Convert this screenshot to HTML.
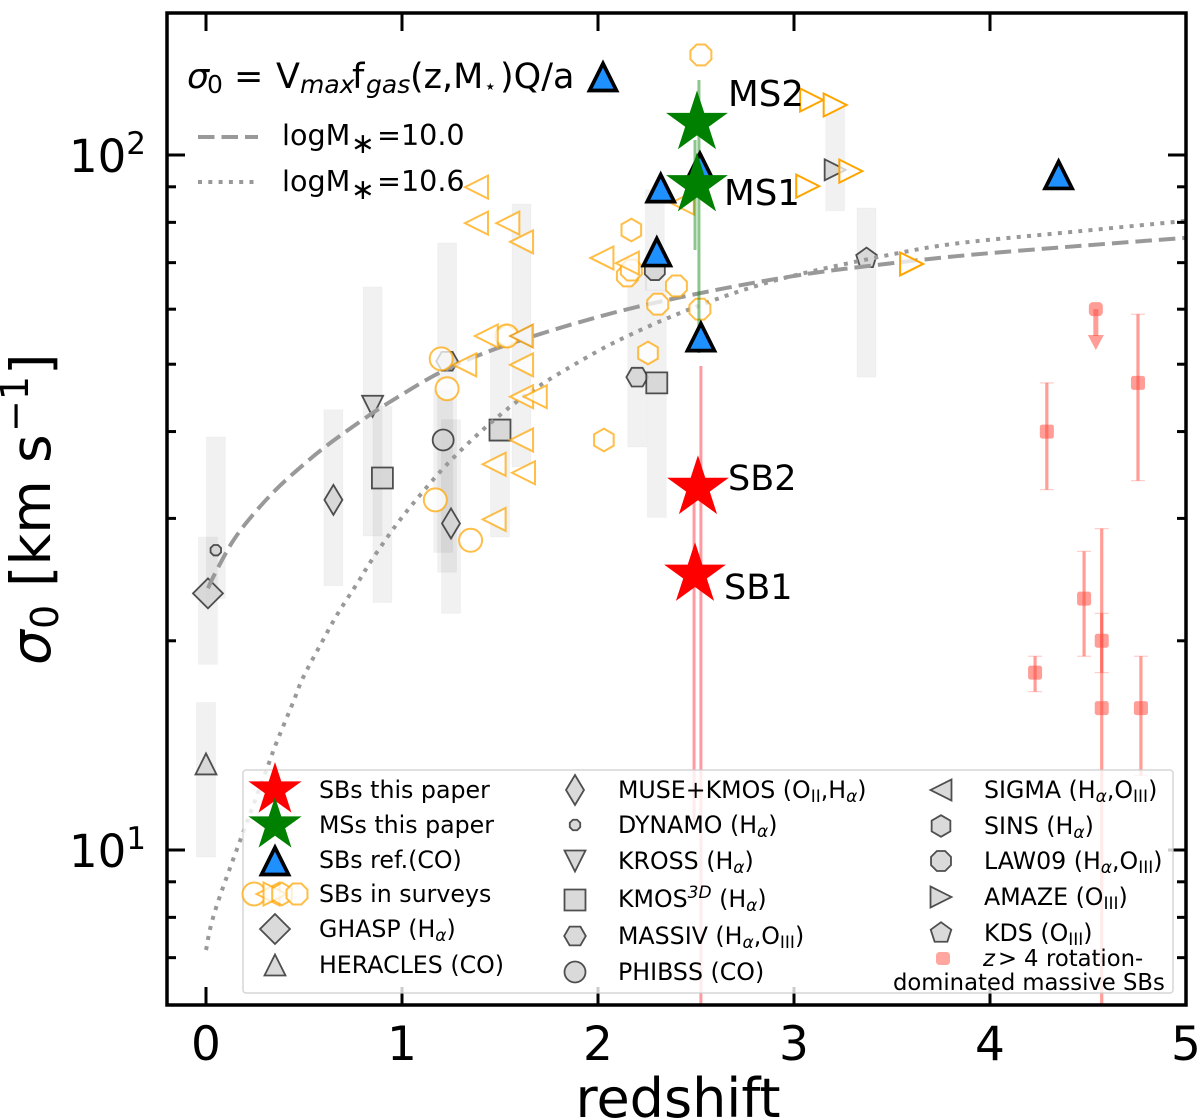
<!DOCTYPE html>
<html lang="en">
<head>
<meta charset="utf-8">
<title>Velocity dispersion versus redshift</title>
<style>
html,body{margin:0;padding:0;background:#fff;}
svg{display:block;}
text{font-family:"DejaVu Sans","Liberation Sans",sans-serif;fill:#000;white-space:pre;}
.it{font-style:italic;}
.lg{font-size:23.7px;}
</style>
</head>
<body>
<svg id="chart" xmlns="http://www.w3.org/2000/svg" width="1200" height="1118" viewBox="0 0 1200 1118">
  <defs><clipPath id="plot-clip"><rect x="167" y="13" width="1019" height="992"/></clipPath></defs>
  <g id="bands" clip-path="url(#plot-clip)"></g>
  <g id="surveys" clip-path="url(#plot-clip)"></g>
  <g id="curves" clip-path="url(#plot-clip)"></g>
  <g id="orange" clip-path="url(#plot-clip)"></g>
  <g id="surveys-top" clip-path="url(#plot-clip)"></g>
  <g id="orange-tri" clip-path="url(#plot-clip)"></g>
  <g id="pink" clip-path="url(#plot-clip)"></g>
  <g id="errs" clip-path="url(#plot-clip)"></g>
  <g id="blue" clip-path="url(#plot-clip)"></g>
  <g id="stars" clip-path="url(#plot-clip)"></g>

  <g>
    <text x="728" y="106" font-size="35.6">MS2</text>
    <text x="724" y="205" font-size="35.6">MS1</text>
    <text x="728" y="490" font-size="35">SB2</text>
    <text x="724" y="599" font-size="35">SB1</text>
  </g>

  <g>
    <text y="88" font-size="35"><tspan class="it" x="187">σ</tspan><tspan font-size="25" x="207" dy="5">0</tspan><tspan x="234" dy="-5">=</tspan><tspan x="276">V</tspan><tspan class="it" font-size="25" x="300" dy="5">max</tspan><tspan x="352" dy="-5">f</tspan><tspan class="it" font-size="25" x="366" dy="5">gas</tspan><tspan x="410" dy="-5">(z,M</tspan><tspan font-size="20" x="484" dy="5">⋆</tspan><tspan x="500" dy="-5">)Q/a</tspan></text>
    <line x1="198" x2="258" y1="137" y2="137" stroke="#999" stroke-width="4" stroke-dasharray="16.5 7"/>
    <line x1="198" x2="258" y1="182" y2="182" stroke="#999" stroke-width="4" stroke-dasharray="4 6.3"/>
    <text x="282" y="145" font-size="28.6">logM<tspan x="351" dy="8">∗</tspan><tspan x="377" dy="-8">=10.0</tspan></text>
    <text x="282" y="191" font-size="28.6">logM<tspan x="351" dy="8">∗</tspan><tspan x="377" dy="-8">=10.6</tspan></text>
  </g>

  <g id="axes"></g>

  <rect x="243" y="770" width="930" height="223" rx="3" fill="#fff" fill-opacity="0.8" stroke="#ccc" stroke-opacity="0.8" stroke-width="1.5"/>
  <g id="legend-icons"></g>
  <g class="lg">
    <text class="lg" x="319" y="798">SBs this paper</text>
    <text class="lg" x="319" y="833">MSs this paper</text>
    <text class="lg" x="319" y="868">SBs ref.(CO)</text>
    <text class="lg" x="319" y="902">SBs in surveys</text>
    <text class="lg" x="319" y="937">GHASP (H<tspan class="it" font-size="17" dy="4">α</tspan><tspan dy="-4">)</tspan></text>
    <text class="lg" x="319" y="973">HERACLES (CO)</text>

    <text class="lg" x="618" y="798">MUSE+KMOS (O<tspan font-size="17" dy="4">II</tspan><tspan dy="-4">,H</tspan><tspan class="it" font-size="17" dy="4">α</tspan><tspan dy="-4">)</tspan></text>
    <text class="lg" x="618" y="833">DYNAMO (H<tspan class="it" font-size="17" dy="4">α</tspan><tspan dy="-4">)</tspan></text>
    <text class="lg" x="618" y="869">KROSS (H<tspan class="it" font-size="17" dy="4">α</tspan><tspan dy="-4">)</tspan></text>
    <text class="lg" x="618" y="907">KMOS<tspan class="it" font-size="17" dy="-9">3D</tspan><tspan dy="9"> (H</tspan><tspan class="it" font-size="17" dy="4">α</tspan><tspan dy="-4">)</tspan></text>
    <text class="lg" x="618" y="944">MASSIV (H<tspan class="it" font-size="17" dy="4">α</tspan><tspan dy="-4">,O</tspan><tspan font-size="17" dy="4">III</tspan><tspan dy="-4">)</tspan></text>
    <text class="lg" x="618" y="980">PHIBSS (CO)</text>

    <text class="lg" x="984" y="798">SIGMA (H<tspan class="it" font-size="17" dy="4">α</tspan><tspan dy="-4">,O</tspan><tspan font-size="17" dy="4">III</tspan><tspan dy="-4">)</tspan></text>
    <text class="lg" x="984" y="834">SINS (H<tspan class="it" font-size="17" dy="4">α</tspan><tspan dy="-4">)</tspan></text>
    <text class="lg" x="984" y="869">LAW09 (H<tspan class="it" font-size="17" dy="4">α</tspan><tspan dy="-4">,O</tspan><tspan font-size="17" dy="4">III</tspan><tspan dy="-4">)</tspan></text>
    <text class="lg" x="984" y="905">AMAZE (O<tspan font-size="17" dy="4">III</tspan><tspan dy="-4">)</tspan></text>
    <text class="lg" x="984" y="941">KDS (O<tspan font-size="17" dy="4">III</tspan><tspan dy="-4">)</tspan></text>
    <text y="966" font-size="22.7"><tspan class="it" x="983">z</tspan><tspan x="998">&gt;</tspan><tspan x="1024">4</tspan><tspan x="1046">rotation-</tspan></text>
    <text x="893" y="990" font-size="22.7">dominated massive SBs</text>
  </g>

  <text x="678" y="1117" font-size="54" text-anchor="middle">redshift</text>
  <text transform="translate(50,662) rotate(-90)" font-size="55"><tspan class="it" x="-3" y="0">σ</tspan><tspan font-size="38" x="33" y="8">0</tspan><tspan x="75" y="0">[km</tspan><tspan x="199" y="0">s</tspan><tspan font-size="38" x="230" y="-22">−1</tspan><tspan x="287" y="0">]</tspan></text>
</svg>

<script>
// ----- axis ticks -----
const xTicks = [0, 1, 2, 3, 4, 5];
const yMajorExponents = [1, 2];
const yMinorTicks = [6, 7, 8, 9, 20, 30, 40, 50, 60, 70, 80, 90];

// ----- literature surveys: median marker and range band -----
const surveyKinds = ['GHASP', 'HERACLES', 'DYNAMO', 'MUSE', 'KROSS', 'KMOS', 'PHIBSS', 'MASSIV', 'MUSE', 'KMOS', 'SIGMA', 'MASSIV', 'KMOS', 'LAW09', 'AMAZE', 'KDS'];
const surveyZ =     [0.01, 0, 0.05, 0.65, 0.85, 0.90, 1.21, 1.23, 1.25, 1.50, 1.61, 2.20, 2.30, 2.29, 3.21, 3.37];
const surveySigma = [23.4, 13.3, 27, 31.9, 43.5, 34.3, 38.9, 50.5, 29.5, 40.2, 54.9, 47.9, 47, 68.3, 95.2, 71];
const surveyLow =   [18.5, 9.77, 23, 24, 28.3, 22.7, 26.8, 25.1, 21.9, 28.2, 35.6, 38, 30.1, 63.9, 83.1, 47.9];
const surveyHigh =  [28.2, 16.3, 39.3, 43, 64.6, 43.5, 45.9, 74.7, 41.6, 53.6, 85, 67.9, 63.9, 89.1, 118, 83.9];

// ----- model curves -----
const dashedZ =     [0.01, 0.046, 0.133, 0.224, 0.352, 0.495, 0.633, 0.821, 0.954, 1.179, 1.398, 1.638, 1.908, 2.214, 2.658, 3.031, 3.337, 3.847, 4.459, 5];
const dashedSigma = [23.8, 25, 27.7, 30, 32.9, 35.8, 38.5, 42, 44.4, 48.4, 51.6, 54.5, 57.5, 60.6, 64.4, 67.2, 69, 71.6, 74, 76];
const dottedZ =     [0, 0.061, 0.311, 0.352, 0.444, 0.495, 0.597, 0.673, 0.776, 0.852, 0.974, 1.092, 1.23, 1.398, 1.551, 1.668, 1.832, 2.087, 2.403, 2.724, 3.031, 3.505, 3.847, 4.459, 5];
const dottedSigma = [7.18, 8.42, 13.1, 14.1, 16.3, 17.7, 20.05, 21.9, 24.3, 26.3, 29.45, 32.4, 35.9, 39.9, 43.4, 45.9, 49.05, 53.8, 59, 63.7, 67.4, 72, 74.7, 77.7, 80.4];

// ----- SBs in surveys -----
const orangeLeftZ =     [1.38, 1.38, 1.54, 1.61, 1.43, 1.32, 1.61, 1.61, 1.68, 1.61, 1.47, 1.62, 1.47, 2.02, 2.15, 2.43, 1.61];
const orangeLeftSigma = [89.9, 79.8, 79.8, 75, 54.9, 49.9, 49.9, 44.9, 44.9, 38.9, 35.9, 34.9, 29.9, 71.1, 69.9, 85.3, 54.9];
const orangeRightZ =     [3.09, 3.21, 3.07, 3.29, 3.60];
const orangeRightSigma = [120, 118, 90.2, 94.8, 69.7];
const orangeCircleZ =     [1.20, 1.23, 1.535, 1.17, 1.35];
const orangeCircleSigma = [50.9, 46.1, 54.9, 31.9, 27.9];
const orangeHexZ =     [2.03, 2.17, 2.255, 1.535];
const orangeHexSigma = [38.9, 78, 51.9, 54.9];
const orangeOctZ =     [2.525, 2.15, 2.17, 2.40, 2.305, 2.52];
const orangeOctSigma = [139.3, 67, 68.3, 64.8, 61, 60];

// ----- SBs with CO references -----
const blueZ =     [2.32, 2.30, 2.525, 2.52, 4.35];
const blueSigma = [89.6, 72.5, 54.7, 96.1, 93.6];

// ----- this paper -----
const msZ =     [2.505, 2.505];
const msSigma = [111.2, 90.5];
const sbZ =     [2.51, 2.495];
const sbSigma = [33.2, 24.9];
const msErrZ =    [2.515, 2.495];
const msErrHigh = [128.2, 105.1];
const msErrLow =  [51.9, 73];
const sbErrZ =    [2.525, 2.49];
const sbErrHigh = [49.7, 35];
const sbErrLow =  [5.9, 10.7];

// ----- z > 4 rotation-dominated massive SBs -----
const highZ =     [4.29, 4.755, 4.48, 4.57, 4.23, 4.57, 4.77];
const highSigma = [40, 47, 23, 20, 18, 16, 16];
const highLow =   [33, 34, 19, 18, 16.9, 5.9, 12.8];
const highHigh =  [47, 59, 26.9, 21.9, 19, 29, 19];
const limitZ = [4.54];
const limitSigma = [60];
const limitEnd = [52.4];

// ----- axis functions -----
function xScale(z) { return 206 + 196 * z; }
function yScale(v) { return 850 - 695 * Math.log10(v / 10); }

const NS = 'http://www.w3.org/2000/svg';
function make(tag, parent, props, name) {
  const el = document.createElementNS(NS, tag);
  for (const k in props) el.setAttribute(k, props[k]);
  
  
  parent.appendChild(el);
  return el;
}
function polyPoints(pts) { return pts.map(function (p) { return p[0].toFixed(2) + ',' + p[1].toFixed(2); }).join(' '); }
function regular(n, cx, cy, r, rot) {
  const pts = [];
  for (let i = 0; i < n; i++) {
    const a = rot + i * 2 * Math.PI / n;
    pts.push([cx + r * Math.sin(a), cy - r * Math.cos(a)]);
  }
  return pts;
}
function marker(shape, parent, cx, cy, s, style, name) {
  const h = s / 2;
  let pts = null;
  if (shape === 'o') return make('circle', parent, Object.assign({ cx: cx, cy: cy, r: h }, style), name);
  if (shape === '^') pts = [[cx, cy - h], [cx + h, cy + h], [cx - h, cy + h]];
  if (shape === 'v') pts = [[cx, cy + h], [cx + h, cy - h], [cx - h, cy - h]];
  if (shape === '<') pts = [[cx - h, cy], [cx + h, cy - h], [cx + h, cy + h]];
  if (shape === '>') pts = [[cx + h, cy], [cx - h, cy - h], [cx - h, cy + h]];
  if (shape === 's') pts = [[cx - h, cy - h], [cx + h, cy - h], [cx + h, cy + h], [cx - h, cy + h]];
  if (shape === 'D') pts = [[cx, cy - h], [cx + h, cy], [cx, cy + h], [cx - h, cy]];
  if (shape === 'd') pts = [[cx, cy - h], [cx + h * 0.6, cy], [cx, cy + h], [cx - h * 0.6, cy]];
  if (shape === 'h') pts = regular(6, cx, cy, h * 1.03, 0);
  if (shape === 'H') pts = regular(6, cx, cy, h * 1.03, Math.PI / 6);
  if (shape === '8') pts = regular(8, cx, cy, h * 1.03, Math.PI / 8);
  if (shape === 'p') pts = regular(5, cx, cy, h * 1.03, 0);
  if (shape === '*') {
    pts = [];
    for (let i = 0; i < 10; i++) {
      const r = i % 2 ? h * 0.381966 : h;
      const a = i * Math.PI / 5;
      pts.push([cx + r * Math.sin(a), cy - r * Math.cos(a)]);
    }
  }
  return make('polygon', parent, Object.assign({ points: polyPoints(pts) }, style), name);
}

const grayStyle = { fill: '#d3d3d3', 'fill-opacity': 0.85, stroke: '#333', 'stroke-opacity': 0.85, 'stroke-width': 1.8, 'stroke-linejoin': 'miter' };
const orangeStyle = { fill: '#fff', 'fill-opacity': 0.75, stroke: '#ffa500', 'stroke-opacity': 0.72, 'stroke-width': 2 };
const orangeStrong = { fill: '#fff', 'fill-opacity': 0.75, stroke: '#ffa500', 'stroke-opacity': 1, 'stroke-width': 2 };
const blueStyle = { fill: '#1e90ff', stroke: '#000', 'stroke-width': 3.7, 'stroke-linejoin': 'miter' };
const pinkColor = '#ff4d40';

const kindShape = { GHASP: 'D', HERACLES: '^', DYNAMO: '8', MUSE: 'd', KROSS: 'v', KMOS: 's', PHIBSS: 'o', MASSIV: 'H', SIGMA: '<', SINS: 'h', LAW09: '8', AMAZE: '>', KDS: 'p' };
const kindSize = { GHASP: 30, DYNAMO: 11, MUSE: 30 };

// ----- range bands and survey markers -----
const bandsG = document.getElementById('bands');
const surveysG = document.getElementById('surveys');
const surveysTopG = document.getElementById('surveys-top');
surveyZ.forEach(function (z, i) {
  const top = yScale(surveyHigh[i]);
  make('rect', bandsG, {
    x: xScale(z) - 9.5, y: top, width: 19, height: yScale(surveyLow[i]) - top,
    fill: '#000', 'fill-opacity': 0.055, stroke: '#000', 'stroke-opacity': 0.025, 'stroke-width': 1
  }, 'range-' + surveyKinds[i].toLowerCase());
  const k = surveyKinds[i];
  const s = kindSize[k] || 21;
  const layer = k === 'SIGMA' ? surveysTopG : surveysG;
  marker(kindShape[k], layer, xScale(z), yScale(surveySigma[i]), s, grayStyle, 'marker-' + k.toLowerCase());
});

// ----- curves -----
function smoothPath(zs, vs) {
  const p = zs.map(function (z, i) { return [xScale(z), yScale(vs[i])]; });
  let d = 'M' + p[0][0].toFixed(2) + ' ' + p[0][1].toFixed(2);
  for (let i = 0; i < p.length - 1; i++) {
    const a = p[Math.max(i - 1, 0)], b = p[i], c = p[i + 1], e = p[Math.min(i + 2, p.length - 1)];
    d += ' C' + (b[0] + (c[0] - a[0]) / 6).toFixed(2) + ' ' + (b[1] + (c[1] - a[1]) / 6).toFixed(2) + ' ' +
      (c[0] - (e[0] - b[0]) / 6).toFixed(2) + ' ' + (c[1] - (e[1] - b[1]) / 6).toFixed(2) + ' ' +
      c[0].toFixed(2) + ' ' + c[1].toFixed(2);
  }
  return d;
}
const curvesG = document.getElementById('curves');
make('path', curvesG, { d: smoothPath(dashedZ, dashedSigma), fill: 'none', stroke: '#999', 'stroke-width': 4, 'stroke-dasharray': '16.5 7' }, 'curve-logm-10-0');
make('path', curvesG, { d: smoothPath(dottedZ, dottedSigma), fill: 'none', stroke: '#999', 'stroke-width': 4, 'stroke-dasharray': '4 6.3' }, 'curve-logm-10-6');

// ----- orange survey SBs -----
const orangeG = document.getElementById('orange');
const orangeTriG = document.getElementById('orange-tri');
orangeHexZ.forEach(function (z, i) { marker('h', orangeG, xScale(z), yScale(orangeHexSigma[i]), 22, orangeStyle, 'survey-sb-hexagon'); });
orangeOctZ.forEach(function (z, i) { marker('8', orangeG, xScale(z), yScale(orangeOctSigma[i]), 22, orangeStyle, 'survey-sb-octagon'); });
orangeCircleZ.forEach(function (z, i) { marker('o', orangeG, xScale(z), yScale(orangeCircleSigma[i]), 23, orangeStyle, 'survey-sb-circle'); });
orangeLeftZ.forEach(function (z, i) { marker('<', orangeTriG, xScale(z), yScale(orangeLeftSigma[i]), 23, orangeStyle, 'survey-sb-left-triangle'); });
orangeRightZ.forEach(function (z, i) { marker('>', orangeTriG, xScale(z), yScale(orangeRightSigma[i]), 23, orangeStrong, 'survey-sb-right-triangle'); });

// ----- high-z points -----
const pinkG = document.getElementById('pink');
highZ.forEach(function (z, i) {
  const x = xScale(z);
  make('line', pinkG, { x1: x, x2: x, y1: yScale(highHigh[i]), y2: yScale(highLow[i]), stroke: pinkColor, 'stroke-opacity': 0.55, 'stroke-width': 3.2 }, 'high-z-error-bar');
  make('line', pinkG, { x1: x - 7, x2: x + 7, y1: yScale(highHigh[i]), y2: yScale(highHigh[i]), stroke: pinkColor, 'stroke-opacity': 0.28, 'stroke-width': 1.2 }, 'high-z-cap-top');
  make('line', pinkG, { x1: x - 7, x2: x + 7, y1: yScale(highLow[i]), y2: yScale(highLow[i]), stroke: pinkColor, 'stroke-opacity': 0.28, 'stroke-width': 1.2 }, 'high-z-cap-bottom');
  make('rect', pinkG, { x: x - 7, y: yScale(highSigma[i]) - 7, width: 14, height: 14, rx: 2.5, fill: pinkColor, 'fill-opacity': 0.55 }, 'high-z-point');
});
limitZ.forEach(function (z, i) {
  const x = xScale(z), y0 = yScale(limitSigma[i]), y1 = yScale(limitEnd[i]);
  make('rect', pinkG, { x: x - 7, y: y0 - 7, width: 14, height: 14, rx: 4, fill: pinkColor, 'fill-opacity': 0.55 }, 'high-z-limit-point');
  make('line', pinkG, { x1: x, x2: x, y1: y0, y2: y1 - 14, stroke: pinkColor, 'stroke-opacity': 0.55, 'stroke-width': 5 }, 'high-z-limit-shaft');
  make('polygon', pinkG, { points: polyPoints([[x - 8, y1 - 15], [x + 8, y1 - 15], [x, y1]]), fill: pinkColor, 'fill-opacity': 0.55 }, 'high-z-limit-arrowhead');
});

// ----- error bars of this paper -----
const errG = document.getElementById('errs');
msErrZ.forEach(function (z, i) {
  make('line', errG, { x1: xScale(z), x2: xScale(z), y1: yScale(msErrHigh[i]), y2: yScale(msErrLow[i]), stroke: '#008000', 'stroke-opacity': 0.45, 'stroke-width': 3 }, 'ms-error-bar');
});
sbErrZ.forEach(function (z, i) {
  make('line', errG, { x1: xScale(z), x2: xScale(z), y1: yScale(sbErrHigh[i]), y2: yScale(sbErrLow[i]), stroke: '#ff2030', 'stroke-opacity': 0.45, 'stroke-width': 3 }, 'sb-error-bar');
});

// ----- CO reference triangles -----
const blueG = document.getElementById('blue');
blueZ.forEach(function (z, i) { marker('^', blueG, xScale(z), yScale(blueSigma[i]), 27, blueStyle, 'sb-reference-triangle'); });

// ----- stars -----
const starsG = document.getElementById('stars');
msZ.forEach(function (z, i) { marker('*', starsG, xScale(z), yScale(msSigma[i]), 65, { fill: '#008000' }, 'ms-star-' + (2 - i)); });
sbZ.forEach(function (z, i) { marker('*', starsG, xScale(z), yScale(sbSigma[i]), 65, { fill: '#ff0000' }, 'sb-star-' + (2 - i)); });

// ----- axes -----
const axesG = document.getElementById('axes');
const tickStyle = { stroke: '#000', 'stroke-width': 3 };
xTicks.forEach(function (t) {
  const x = xScale(t);
  make('line', axesG, Object.assign({ x1: x, x2: x, y1: 13, y2: 31 }, tickStyle), 'x-tick-top');
  make('line', axesG, Object.assign({ x1: x, x2: x, y1: 1005, y2: 987 }, tickStyle), 'x-tick-bottom');
  const lab = make('text', axesG, { x: x, y: 1060, 'font-size': 47, 'text-anchor': 'middle' }, 'x-tick-label');
  lab.textContent = String(t);
});
yMajorExponents.forEach(function (e) {
  const y = yScale(Math.pow(10, e));
  make('line', axesG, Object.assign({ x1: 167, x2: 185, y1: y, y2: y }, tickStyle), 'y-major-tick-left');
  make('line', axesG, Object.assign({ x1: 1186, x2: 1168, y1: y, y2: y }, tickStyle), 'y-major-tick-right');
  const lab = make('text', axesG, { x: 146, y: y + 17, 'font-size': 45, 'text-anchor': 'end' }, 'y-tick-label');
  const base = document.createElementNS(NS, 'tspan');
  base.textContent = '10';
  lab.appendChild(base);
  const sup = document.createElementNS(NS, 'tspan');
  sup.setAttribute('font-size', '31');
  sup.setAttribute('dy', '-18');
  sup.textContent = String(e);
  lab.appendChild(sup);
});
yMinorTicks.forEach(function (v) {
  const y = yScale(v);
  if (y > 1004) return;
  make('line', axesG, Object.assign({ x1: 167, x2: 176, y1: y, y2: y }, tickStyle), 'y-minor-tick-left');
  make('line', axesG, Object.assign({ x1: 1186, x2: 1177, y1: y, y2: y }, tickStyle), 'y-minor-tick-right');
});
make('rect', axesG, { x: 167, y: 13, width: 1019, height: 992, fill: 'none', stroke: '#000', 'stroke-width': 3.5 }, 'plot-frame');

// ----- equation triangle and legend icons (fixed layout, not data) -----
const iconsG = document.getElementById('legend-icons');
marker('^', iconsG, 603, 77, 27, blueStyle, 'equation-triangle');
marker('*', iconsG, 275, 790, 56, { fill: '#ff0000' }, 'legend-icon-sb-star');
marker('*', iconsG, 275, 825, 56, { fill: '#008000' }, 'legend-icon-ms-star');
marker('^', iconsG, 275, 861, 27, blueStyle, 'legend-icon-reference');
marker('o', iconsG, 254, 894, 23, orangeStyle, 'legend-icon-survey-circle');
marker('<', iconsG, 268, 894, 23, orangeStyle, 'legend-icon-survey-left');
marker('>', iconsG, 275, 894, 23, orangeStyle, 'legend-icon-survey-right');
marker('h', iconsG, 282, 894, 22, orangeStyle, 'legend-icon-survey-hexagon');
marker('8', iconsG, 297, 894, 22, orangeStyle, 'legend-icon-survey-octagon');
marker('D', iconsG, 275, 929, 30, grayStyle, 'legend-icon-ghasp');
marker('^', iconsG, 275, 965, 21, grayStyle, 'legend-icon-heracles');
marker('d', iconsG, 575, 790, 30, grayStyle, 'legend-icon-muse');
marker('8', iconsG, 575, 825, 11, grayStyle, 'legend-icon-dynamo');
marker('v', iconsG, 575, 861, 21, grayStyle, 'legend-icon-kross');
marker('s', iconsG, 575, 900, 21, grayStyle, 'legend-icon-kmos3d');
marker('H', iconsG, 575, 936, 21, grayStyle, 'legend-icon-massiv');
marker('o', iconsG, 575, 972, 21, grayStyle, 'legend-icon-phibss');
marker('<', iconsG, 941, 790, 21, grayStyle, 'legend-icon-sigma');
marker('h', iconsG, 941, 826, 21, grayStyle, 'legend-icon-sins');
marker('8', iconsG, 941, 861, 21, grayStyle, 'legend-icon-law09');
marker('>', iconsG, 941, 897, 21, grayStyle, 'legend-icon-amaze');
marker('p', iconsG, 941, 933, 21, grayStyle, 'legend-icon-kds');
make('rect', iconsG, { x: 936, y: 952, width: 14, height: 13, rx: 3.5, fill: pinkColor, 'fill-opacity': 0.5 }, 'legend-icon-high-z');
</script>
</body>
</html>
